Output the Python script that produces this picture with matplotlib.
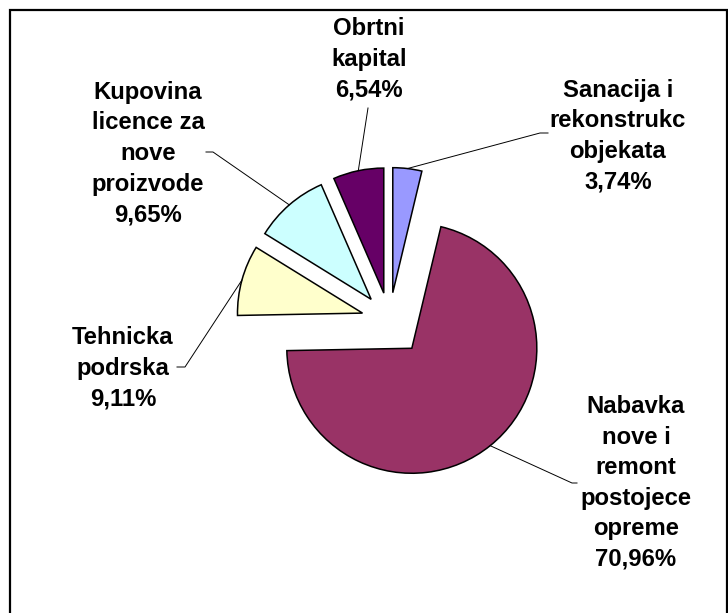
import matplotlib
matplotlib.use("Agg")
import matplotlib.pyplot as plt
import numpy as np

# slices, clockwise from the top
names = ["Sanacija i\nrekonstrukc\nobjekata",
         "Nabavka\nnove i\nremont\npostojece\nopreme",
         "Tehnicka\npodrska",
         "Kupovina\nlicence za\nnove\nproizvode",
         "Obrtni\nkapital"]
shares = [3.74, 70.96, 9.11, 9.65, 6.54]
colors = ["#9999FF", "#993366", "#FFFFCC", "#CCFFFF", "#660066"]
explode_frac = [0.224, 0.285, 0.224, 0.224, 0.224]

# layout in pixels, y measured from the top
W, H = 728, 613
pie_center = (389.5, 320.5)
pie_radius = 125
label_xy = [(618, 136), (636, 483), (123, 368), (148, 153.5), (369, 59.5)]
# leader line: elbow near label, then optional short horizontal tick
leader = [((540, 133), (548, 133)),
          ((572, 483), (577, 483)),
          ((185, 367), (177, 367)),
          ((213, 152), (206, 152)),
          ((368, 108), None)]

fig = plt.figure(figsize=(W / 100, H / 100), dpi=100)
ax = fig.add_axes([0, 0, 1, 1])

# y axis is inverted, so start at -90 and go counterclockwise in data
# to get a clockwise pie starting at 12 o'clock on screen
# (pie's explode is in data units, so scale by the radius)
wedges, _ = ax.pie(shares, explode=[e * pie_radius for e in explode_frac],
                   colors=colors, startangle=-90, counterclock=True,
                   radius=pie_radius, center=pie_center,
                   wedgeprops=dict(edgecolor="black", linewidth=1.1))

ax.set_xlim(0, W)
ax.set_ylim(H, 0)
ax.set_aspect("equal")
ax.axis("off")

for w, name, val, (lx, ly), (elbow, tick) in zip(wedges, names, shares, label_xy, leader):
    ang = np.deg2rad((w.theta1 + w.theta2) / 2)
    px = w.center[0] + w.r * np.cos(ang)
    py = w.center[1] + w.r * np.sin(ang)
    xs = [px, elbow[0]]
    ys = [py, elbow[1]]
    if tick is not None:
        xs.append(tick[0])
        ys.append(tick[1])
    ax.plot(xs, ys, color="black", linewidth=0.7)

    pct = f"{val:.2f}".replace(".", ",") + "%"
    ax.text(lx, ly, name + "\n" + pct, ha="center", va="center",
            multialignment="center", fontsize=17.2, fontweight="bold",
            family="Liberation Sans", linespacing=1.42)

# chart frame (top, left and right edges visible)
ax.plot([10, 10, 726.5, 726.5], [H + 5, 9.5, 9.5, H + 5], color="black",
        linewidth=1.6, clip_on=False, solid_joinstyle="miter")

fig.savefig("out.png", dpi=100, facecolor="white")
